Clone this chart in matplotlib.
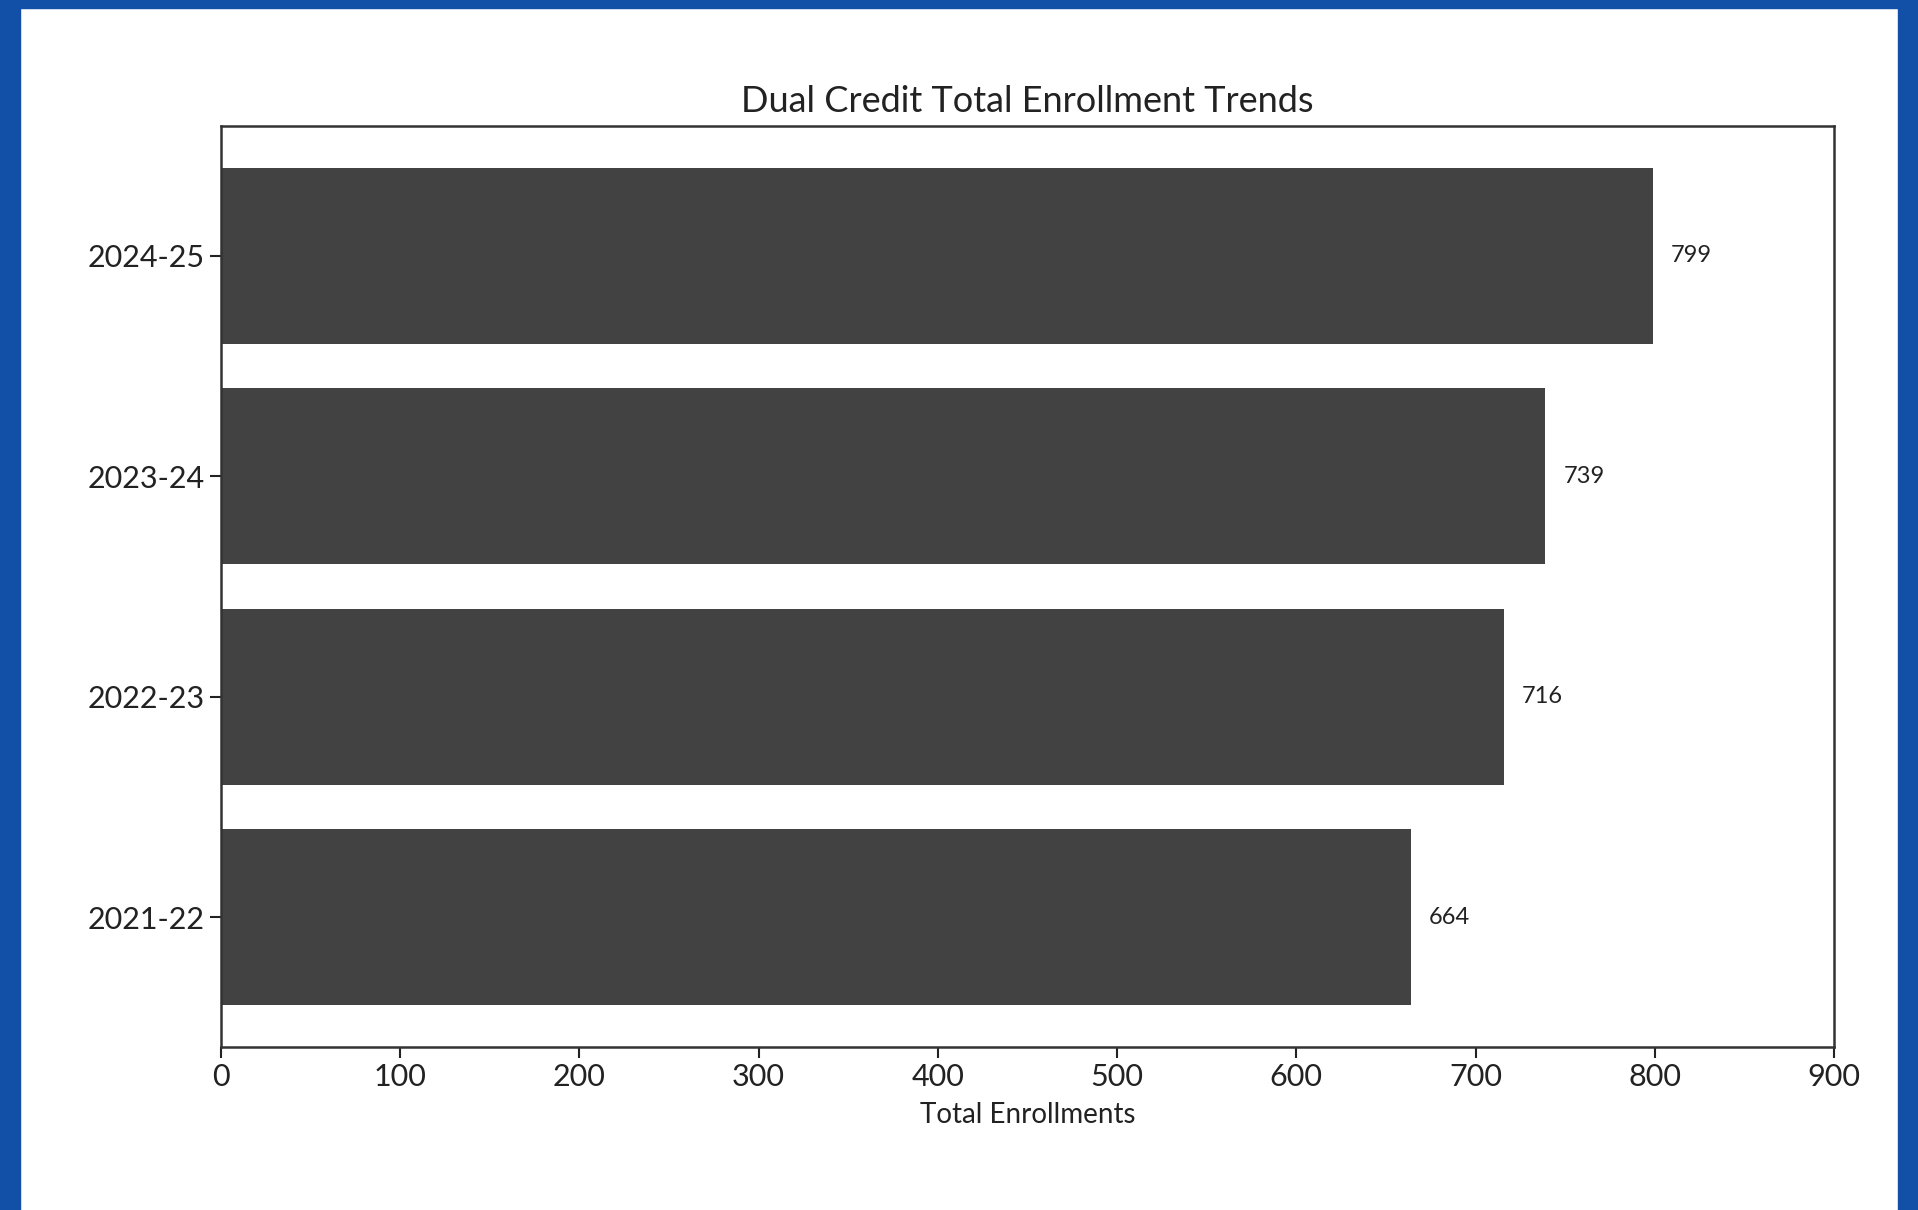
import matplotlib
matplotlib.use("Agg")
import matplotlib.pyplot as plt
from matplotlib.patches import Rectangle

# Data
years = ["2021-22", "2022-23", "2023-24", "2024-25"]
enrollments = [664, 716, 739, 799]

W, H = 1918, 1210
plt.rcParams['font.family'] = ['Lato', 'DejaVu Sans']

fig = plt.figure(figsize=(W / 100, H / 100), dpi=100)
fig.patch.set_facecolor('white')

# blue frame around the screenshot
blue = '#1150A6'
fig.patches.append(Rectangle((0, 0), 20 / W, 1, transform=fig.transFigure, color=blue, zorder=0))
fig.patches.append(Rectangle((1 - 20 / W, 0), 20 / W, 1, transform=fig.transFigure, color=blue, zorder=0))
fig.patches.append(Rectangle((0, 1 - 8 / H), 1, 8 / H, transform=fig.transFigure, color=blue, zorder=0))

ax = fig.add_axes([221 / W, 1 - 1047 / H, (1834 - 221) / W, (1047 - 126) / H])
bars = ax.barh(years, enrollments, height=0.8, color='#424242')

for y, v in zip(years, enrollments):
    ax.text(v + 10, y, str(v), va='center', ha='left', fontsize=17, color='#222222')

ax.set_xlim(0, 900)
ax.set_title('Dual Credit Total Enrollment Trends', fontsize=26, color='#222222', pad=10)
ax.set_xlabel('Total Enrollments', fontsize=20, color='#222222', labelpad=8)
ax.tick_params(axis='both', labelsize=22, colors='#222222', length=8, width=1.5)
for s in ax.spines.values():
    s.set_linewidth(1.8)
    s.set_color('#333333')

fig.savefig('out.png', dpi=100)
